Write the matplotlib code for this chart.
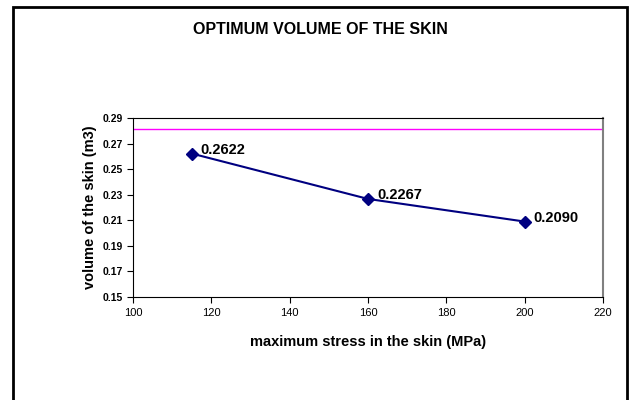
import matplotlib.pyplot as plt
from matplotlib.patches import Rectangle

# data
stress = [115, 160, 200]
volume = [0.2622, 0.2267, 0.2090]
labels = ["0.2622", "0.2267", "0.2090"]
limit_volume = 0.2814

plt.rcParams['font.family'] = ['Liberation Sans', 'DejaVu Sans']

fig = plt.figure(figsize=(6.3, 4), dpi=100)
ax = fig.add_axes([133 / 630, 1 - 297 / 400, 470 / 630, 179 / 400])

# outer chart border
fig.patches.append(Rectangle((12.5 / 630, -0.05), 614.5 / 630, 1.05 - 6.5 / 400,
                             transform=fig.transFigure, fill=False,
                             edgecolor='black', linewidth=2))

ax.axhline(limit_volume, color='#ff00ff', linewidth=1)
ax.plot(stress, volume, color='#000080', linewidth=1.5, marker='D',
        markersize=6, markerfacecolor='#000080', markeredgecolor='#000080')
for x, y, s in zip(stress, volume, labels):
    ax.annotate(s, (x, y), xytext=(6.5, 2.5), textcoords='offset points',
                fontsize=10.5, fontweight='bold', va='center')

ax.set_xlim(100, 220)
ax.set_ylim(0.15, 0.29)
ax.set_xticks(range(100, 221, 20))
ax.set_yticks([0.15, 0.17, 0.19, 0.21, 0.23, 0.25, 0.27, 0.29])
ax.set_yticklabels(["%.2f" % v for v in ax.get_yticks()], fontweight='bold')
ax.tick_params(axis='y', direction='out', length=4, labelsize=7.5, pad=3)
ax.tick_params(axis='x', direction='out', length=4, labelsize=8, pad=4)
ax.spines['right'].set_color('#808080')
ax.spines['right'].set_linewidth(1.5)

ax.set_xlabel('maximum stress in the skin (MPa)', fontsize=10.5, fontweight='bold', labelpad=12)
ax.set_ylabel('volume of the skin (m3)', fontsize=10.5, fontweight='bold', labelpad=4)
fig.text(320 / 630, 1 - 30 / 400, 'OPTIMUM VOLUME OF THE SKIN', ha='center', va='center',
         fontsize=11.5, fontweight='bold')

fig.savefig('out.png', dpi=100)
